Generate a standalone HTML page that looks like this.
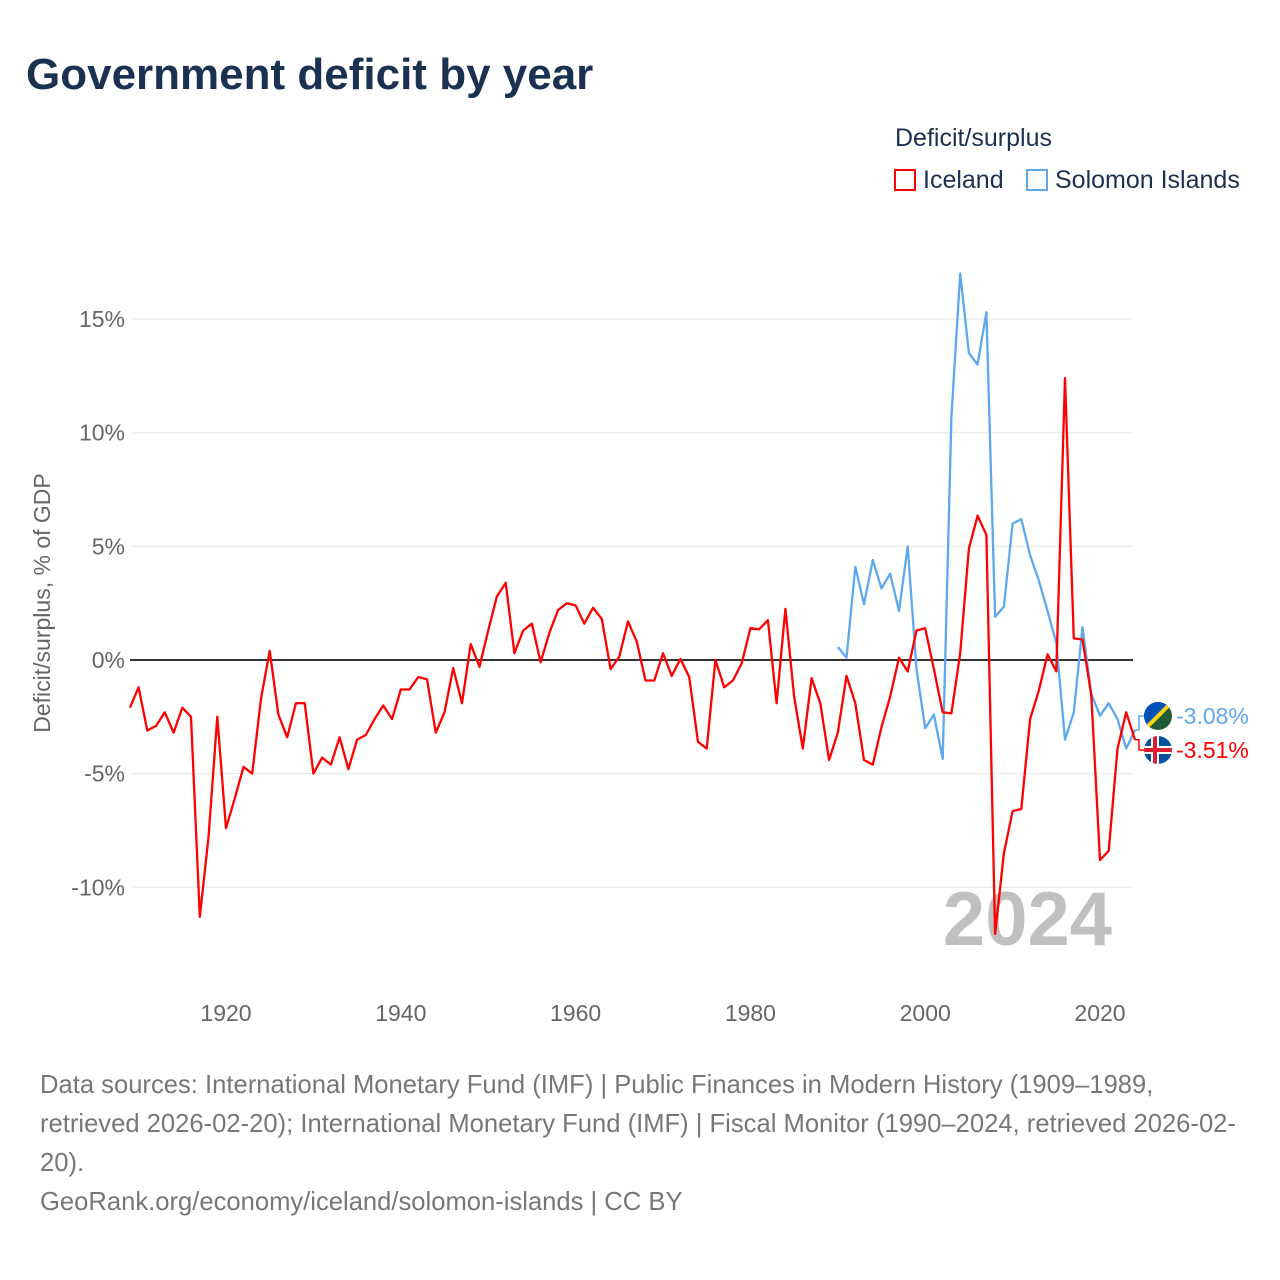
<!DOCTYPE html>
<html><head><meta charset="utf-8"><style>
body{margin:0;background:#fff;font-family:"Liberation Sans",sans-serif;}
#wrap{position:relative;width:1280px;height:1280px;overflow:hidden;}
.t{position:absolute;white-space:nowrap;}
</style></head><body>
<div id="wrap">
<div class="t" style="left:26px;top:50px;font-size:44px;font-weight:bold;color:#1a3152;">Government deficit by year</div>
<div class="t" style="left:895px;top:124px;font-size:25px;color:#1a3152;">Deficit/surplus</div>
<div class="t" style="left:894px;top:166px;font-size:25px;color:#1a3152;"><span style="display:inline-block;width:22px;height:22px;border:2px solid #f00;box-sizing:border-box;vertical-align:-3px;margin-right:7px;"></span>Iceland</div>
<div class="t" style="left:1026px;top:166px;font-size:25px;color:#1a3152;"><span style="display:inline-block;width:22px;height:22px;border:2px solid #5ea8ee;box-sizing:border-box;vertical-align:-3px;margin-right:7px;"></span>Solomon Islands</div>
<svg id="chart" width="1280" height="1280" style="position:absolute;left:0;top:0;"></svg>
<div class="t" style="left:40px;top:1066px;font-size:25.6px;line-height:39px;color:#777;white-space:normal;width:1200px;">Data sources: International Monetary Fund (IMF) | Public Finances in Modern History (1909–1989, retrieved 2026-02-20); International Monetary Fund (IMF) | Fiscal Monitor (1990–2024, retrieved 2026-02-20).<br>GeoRank.org/economy/iceland/solomon-islands | CC BY</div>
</div>
<script>
const icelandYears=[1909,2024];
const icelandValues=[-2.1,-1.2,-3.1,-2.9,-2.3,-3.2,-2.1,-2.5,-11.3,-7.8,-2.5,-7.4,-6.1,-4.7,-5.0,-1.7,0.4,-2.4,-3.4,-1.9,-1.9,-5.0,-4.3,-4.6,-3.4,-4.8,-3.5,-3.3,-2.6,-2.0,-2.6,-1.3,-1.3,-0.75,-0.85,-3.2,-2.3,-0.35,-1.9,0.7,-0.3,1.3,2.8,3.4,0.3,1.3,1.6,-0.1,1.2,2.2,2.5,2.4,1.6,2.3,1.8,-0.4,0.15,1.7,0.8,-0.9,-0.9,0.3,-0.7,0.05,-0.75,-3.6,-3.9,0,-1.2,-0.9,-0.15,1.4,1.35,1.75,-1.9,2.25,-1.6,-3.9,-0.8,-1.9,-4.4,-3.2,-0.7,-1.9,-4.4,-4.6,-2.95,-1.6,0.1,-0.5,1.3,1.4,-0.4,-2.3,-2.35,0.3,4.9,6.35,5.5,-12.05,-8.5,-6.65,-6.55,-2.6,-1.35,0.25,-0.5,12.4,0.95,0.9,-1.55,-8.8,-8.4,-3.9,-2.3,-3.51];
const solomonStart=1990;
const solomonValues=[0.57,0.1,4.1,2.45,4.4,3.15,3.8,2.15,5.0,-0.4,-3.0,-2.4,-4.35,10.7,17.0,13.5,13.0,15.3,1.9,2.35,6.0,6.2,4.6,3.5,2.15,0.75,-3.5,-2.3,1.45,-1.5,-2.45,-1.9,-2.6,-3.9,-3.08];
const yTicks=[15,10,5,0,-5,-10];
const yTickLabels=["15%","10%","5%","0%","-5%","-10%"];
const xTicks=[1920,1940,1960,1980,2000,2020];
const NS="http://www.w3.org/2000/svg";
const svg=document.getElementById('chart');
const X=y=>226+(y-1920)*8.74;
const Y=v=>660-v*22.73;
function mk(tag,attrs,parent){const e=document.createElementNS(NS,tag);for(const k in attrs)e.setAttribute(k,attrs[k]);(parent||svg).appendChild(e);return e;}
yTicks.forEach((v,i)=>{
 if(v!==0){const g=mk('line',{x1:130,x2:1133,y1:Y(v),y2:Y(v),stroke:'#e6e6e6','stroke-width':1});
 
 }
 const t=mk('text',{x:125,y:Y(v)+8,'text-anchor':'end','font-size':23,fill:'#666','font-family':'Liberation Sans, sans-serif'});
 t.textContent=yTickLabels[i];
 
 
});
xTicks.forEach(yr=>{
 const t=mk('text',{x:X(yr),y:1021,'text-anchor':'middle','font-size':23,fill:'#666','font-family':'Liberation Sans, sans-serif'});
 t.textContent=yr;
 
 
});
const yt=mk('text',{x:0,y:0,transform:'translate(50,603) rotate(-90)','text-anchor':'middle','font-size':23,fill:'#666','font-family':'Liberation Sans, sans-serif'});
yt.textContent='Deficit/surplus, % of GDP';


const wm=mk('text',{x:1112,y:945,'text-anchor':'end','font-size':76,'font-weight':'bold',fill:'#c0c0c0','font-family':'Liberation Sans, sans-serif'});
wm.textContent='2024';


const zl=mk('line',{x1:130,x2:1133,y1:Y(0),y2:Y(0),stroke:'#333','stroke-width':2});


const sp=solomonValues.map((v,i)=>X(solomonStart+i).toFixed(1)+','+Y(v).toFixed(1)).join(' ');
const sl=mk('polyline',{points:sp,fill:'none',stroke:'#5ea8ee','stroke-width':2.3,'stroke-linejoin':'round'});


const ip=icelandValues.map((v,i)=>X(icelandYears[0]+i).toFixed(1)+','+Y(v).toFixed(1)).join(' ');
const il=mk('polyline',{points:ip,fill:'none',stroke:'#ff0000','stroke-width':2.3,'stroke-linejoin':'round'});


const lastS=solomonValues[solomonValues.length-1], lastI=icelandValues[icelandValues.length-1];
const endX=X(2024);
const sc=mk('path',{d:`M${endX},${Y(lastS)} h4 V716 h6`,fill:'none',stroke:'#5ea8ee','stroke-width':1.5});


const ic=mk('path',{d:`M${endX},${Y(lastI)} h4 V750 h6`,fill:'none',stroke:'#ff0000','stroke-width':1.5});


const sf=mk('g',{});


mk('defs',{},sf).innerHTML='<clipPath id="c1"><circle cx="1158" cy="716" r="14"/></clipPath><clipPath id="c2"><circle cx="1158" cy="750" r="14"/></clipPath>';
const g1=mk('g',{'clip-path':'url(#c1)'},sf);
mk('rect',{x:1144,y:702,width:28,height:28,fill:'#215b33'},g1);
mk('polygon',{points:'1144,702 1172,702 1144,730',fill:'#0051ba'},g1);
mk('line',{x1:1144,y1:730,x2:1172,y2:702,stroke:'#fcd116','stroke-width':4},g1);
const ifl=mk('g',{'clip-path':'url(#c2)'});


mk('rect',{x:1144,y:736,width:28,height:28,fill:'#02529c'},ifl);
mk('rect',{x:1144,y:746,width:28,height:8,fill:'#fff'},ifl);
mk('rect',{x:1151,y:736,width:8,height:28,fill:'#fff'},ifl);
mk('rect',{x:1144,y:748,width:28,height:4,fill:'#dc1e35'},ifl);
mk('rect',{x:1153,y:736,width:4,height:28,fill:'#dc1e35'},ifl);
const sv=mk('text',{x:1176,y:724,'font-size':23,fill:'#5ea8ee','font-family':'Liberation Sans, sans-serif'});
sv.textContent=lastS.toFixed(2)+'%';


const iv=mk('text',{x:1176,y:758,'font-size':23,fill:'#ff0000','font-family':'Liberation Sans, sans-serif'});
iv.textContent=lastI.toFixed(2)+'%';


</script>
</body></html>
